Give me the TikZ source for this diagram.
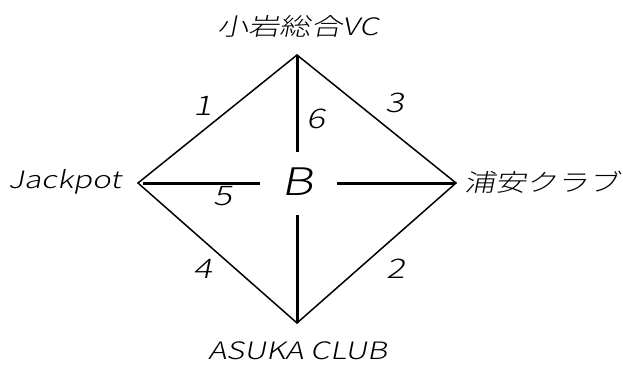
\documentclass[tikz,border=0pt]{standalone}
\usepackage{fontspec}
\newfontfamily\lab[FakeSlant=0.2,FakeStretch=1.3]{Noto Sans CJK JP Light}
\begin{document}
\begin{tikzpicture}[x=1pt,y=-1pt,
  edge/.style={line width=1.5pt},
  spoke/.style={line width=3pt},
  lbl/.style={font=\lab\fontsize{24}{26}\selectfont, inner sep=0pt},
  num/.style={font=\lab\fontsize{27}{29}\selectfont, inner sep=0pt}]
\useasboundingbox (0,0) rectangle (623,369);
\coordinate (T) at (297,55);
\coordinate (L) at (138,183);
\coordinate (R) at (456,183);
\coordinate (D) at (297,323);
\coordinate (Tc) at (297,152);
\coordinate (Dc) at (297,215);
\coordinate (Lc) at (260,183);
\coordinate (Rc) at (337,183);
\coordinate (Ls) at (143,183);
\coordinate (Rs) at (455,183);
\draw[edge] (T) -- (R) -- (D) -- (L) -- cycle;
\draw[spoke] (T) -- (Tc);
\draw[spoke] (D) -- (Dc);
\draw[spoke] (Ls) -- (Lc);
\draw[spoke] (Rs) -- (Rc);
\node[font=\lab\fontsize{38}{40}\selectfont, inner sep=0pt] (B) at (297,182) {B};
\node[num] (n1) at (203,106) {1};
\node[num] (n6) at (316,119) {6};
\node[num] (n3) at (395,103) {3};
\node[num] (n5) at (223,196) {5};
\node[num] (n4) at (203,269) {4};
\node[num] (n2) at (396,269) {2};
\node[lbl] (top) at (298,26) {小岩総合VC};
\node[lbl] (jp) at (65,182) {Jackpot};
\node[lbl] (ur) at (542,182) {浦安クラブ};
\node[lbl] (as) at (298,351) {ASUKA CLUB};
\end{tikzpicture}
\end{document}
